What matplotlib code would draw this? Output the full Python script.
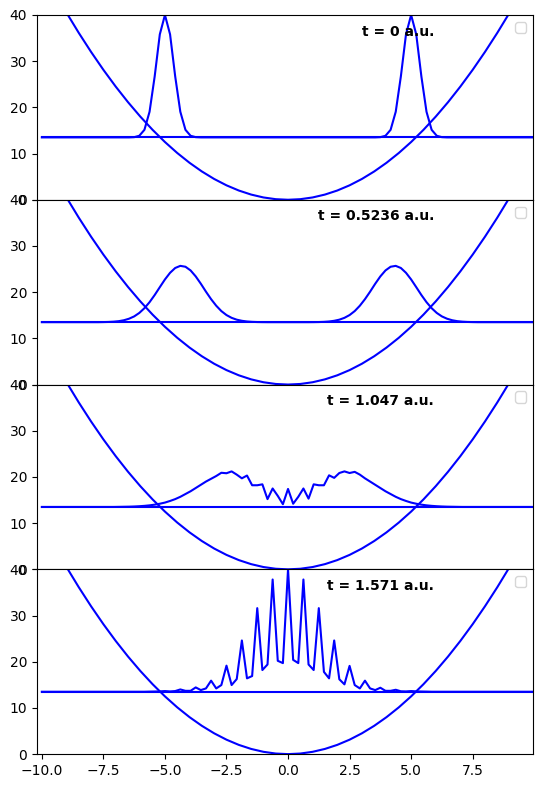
"""
Wave packet in a harmonic well, four snapshots stacked
"""
import numpy as np
import matplotlib.pyplot as plt

# ─── data ──────────────────────────────────────────
# grid used by the snapshots (97 points between -10 and 10)
x = np.linspace(-10, 10, 97)
energy = 13.5

# harmonic potential
x_pot = [-10.0, -9.5, -9.0, -8.5, -8.0, -7.5, -7.0, -6.5, -6.0, -5.5, -5.0,
         -4.5, -4.0, -3.5, -3.0, -2.5, -2.0, -1.5, -1.0, -0.5, 0.0,
         0.5, 1.0, 1.5, 2.0, 2.5, 3.0, 3.5, 4.0, 4.5, 5.0,
         5.5, 6.0, 6.5, 7.0, 7.5, 8.0, 8.5, 9.0, 9.5, 10.0]
v_pot = [50.0, 45.125, 40.5, 36.125, 32.0, 28.125, 24.5, 21.125, 18.0, 15.125, 12.5,
         10.125, 8.0, 6.125, 4.5, 3.125, 2.0, 1.125, 0.5, 0.125, 0.0,
         0.125, 0.5, 1.125, 2.0, 3.125, 4.5, 6.125, 8.0, 10.125, 12.5,
         15.125, 18.0, 21.125, 24.5, 28.125, 32.0, 36.125, 40.5, 45.125, 50.0]

times = ["0", "0.5236", "1.047", "1.571"]

# |psi|^2 (scaled) above the energy line, one value per grid point
dens_t0 = [0, 0, 0, 0, 0, 0, 0, 0, 0, 0,
           0, 0, 0, 0, 0, 0, 0, 0, 0.05, 0.35,
           1.64, 5.55, 13.2, 22.3, 26.5, 22.3, 13.2, 5.55, 1.64, 0.35,
           0.05, 0, 0, 0, 0, 0, 0, 0, 0, 0,
           0, 0, 0, 0, 0, 0, 0, 0, 0, 0,
           0, 0, 0, 0, 0, 0, 0, 0, 0, 0,
           0, 0, 0, 0, 0, 0, 0.05, 0.35, 1.64, 5.55,
           13.2, 22.3, 26.5, 22.3, 13.2, 5.55, 1.64, 0.35, 0.05, 0,
           0, 0, 0, 0, 0, 0, 0, 0, 0, 0,
           0, 0, 0, 0, 0, 0, 0]

dens_t1 = [0, 0, 0, 0, 0, 0, 0, 0, 0, 0,
           0, 0, 0.02, 0.05, 0.11, 0.22, 0.42, 0.75, 1.25, 2.0,
           3.03, 4.33, 5.88, 7.58, 9.25, 10.69, 11.73, 12.19, 12.0, 11.2,
           9.91, 8.32, 6.6, 4.98, 3.56, 2.4, 1.54, 0.94, 0.54, 0.3,
           0.15, 0.07, 0.03, 0.01, 0, 0, 0, 0, 0, 0,
           0, 0, 0, 0.01, 0.03, 0.07, 0.15, 0.3, 0.54, 0.94,
           1.54, 2.4, 3.56, 4.98, 6.6, 8.32, 9.91, 11.2, 12.0, 12.19,
           11.73, 10.69, 9.25, 7.58, 5.88, 4.33, 3.03, 2.0, 1.25, 0.75,
           0.42, 0.22, 0.11, 0.05, 0.02, 0, 0, 0, 0, 0,
           0, 0, 0, 0, 0, 0, 0]

dens_t2 = [0, 0, 0, 0, 0, 0, 0, 0, 0, 0,
           0, 0, 0, 0, 0, 0.02, 0.04, 0.06, 0.1, 0.16,
           0.24, 0.35, 0.5, 0.7, 0.95, 1.3, 1.7, 2.2, 2.8, 3.4,
           4.1, 4.8, 5.5, 6.1, 6.7, 7.4, 7.3, 7.7, 7.0, 6.2,
           6.8, 4.7, 4.7, 4.9, 1.7, 4.0, 2.4, 0.6, 3.9, 0.7,
           2.2, 4.0, 1.8, 4.9, 4.7, 4.7, 6.85, 6.3, 7.35, 7.7,
           7.35, 7.6, 7.0, 6.2, 5.5, 4.8, 4.1, 3.4, 2.8, 2.2,
           1.7, 1.3, 0.95, 0.7, 0.5, 0.35, 0.24, 0.16, 0.1, 0.06,
           0.04, 0.02, 0, 0, 0, 0, 0, 0, 0, 0,
           0, 0, 0, 0, 0, 0, 0]

dens_t3 = [0, 0, 0, 0, 0, 0, 0, 0, 0, 0,
           0, 0, 0, 0, 0, 0, 0, 0, 0, 0,
           0, 0.03, 0.05, 0.08, 0.15, 0.07, 0.15, 0.5, 0.2, 0.2,
           0.94, 0.36, 0.72, 2.4, 0.72, 1.45, 5.65, 1.45, 2.75, 11.1,
           2.9, 3.4, 18.1, 4.7, 5.9, 24.3, 6.7, 6.2, 26.5, 6.9,
           6.2, 24.3, 5.9, 4.7, 18.1, 4.3, 2.9, 11.1, 2.7, 1.6,
           5.6, 1.45, 0.72, 2.4, 0.72, 0.36, 0.87, 0.2, 0.2, 0.43,
           0.1, 0.07, 0.15, 0.08, 0.05, 0.03, 0, 0, 0, 0,
           0, 0, 0, 0, 0, 0, 0, 0, 0, 0,
           0, 0, 0, 0, 0, 0, 0]

densities = [dens_t0, dens_t1, dens_t2, dens_t3]

# ─── figure ────────────────────────────────────────
fig, axes = plt.subplots(4, 1, figsize=(5.43, 7.88), dpi=100, sharex=True)
fig.subplots_adjust(left=0.068, right=0.982, top=0.981, bottom=0.043, hspace=0)

for ax, t, dens in zip(axes, times, densities):
    ax.plot(x_pot, v_pot, color='blue')
    ax.plot([x[0], x[-1]], [energy, energy], color='blue')
    ax.plot(x, energy + np.array(dens), color='blue')
    ax.set_ylim(0, 40)
    ax.set_yticks([0, 10, 20, 30, 40])
    ax.text(0.8, 0.91, f't = {t} a.u.', transform=ax.transAxes,
            ha='right', va='center', fontsize=10, fontweight='bold')
    ax.legend(handles=[], loc='upper right')

axes[-1].set_xlim(-10.2, 9.96)
axes[-1].set_xticks([-10, -7.5, -5, -2.5, 0, 2.5, 5, 7.5])

plt.savefig('out.png', dpi=100)
plt.close()
